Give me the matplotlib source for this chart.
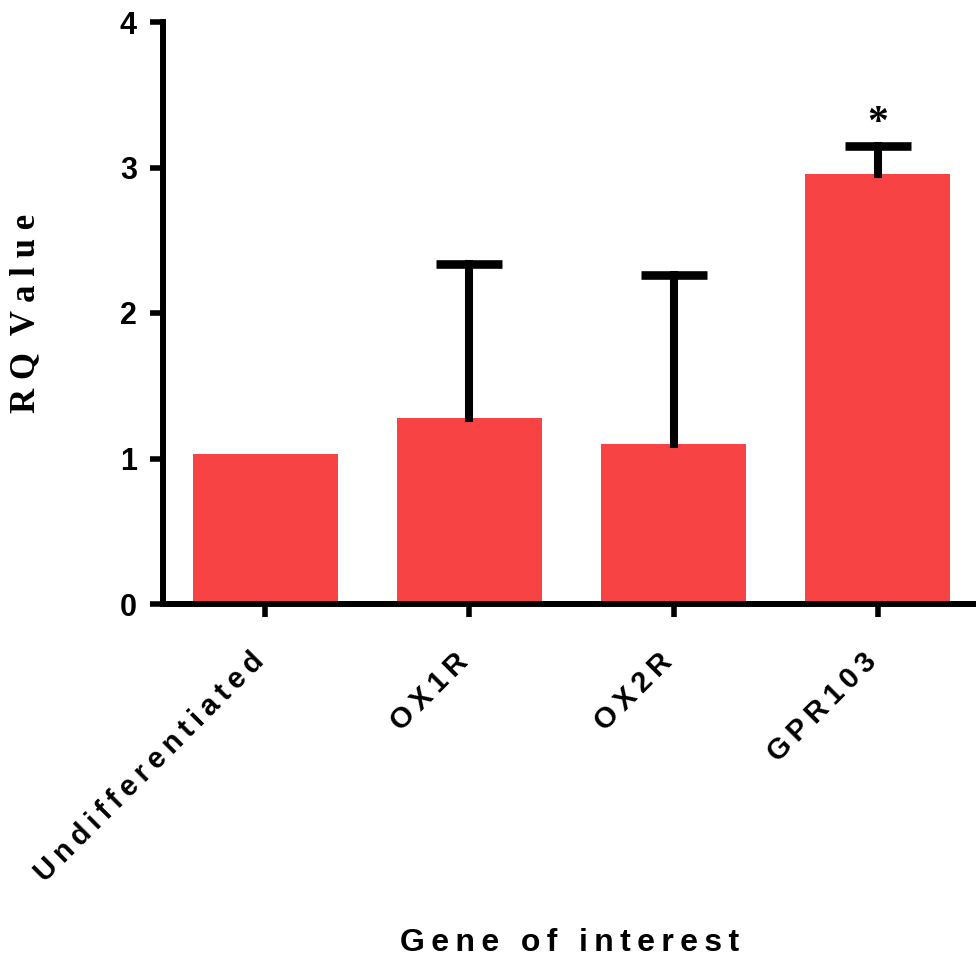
import matplotlib
matplotlib.use("Agg")
import matplotlib.pyplot as plt
import numpy as np

categories = ["Undifferentiated", "OX1R", "OX2R", "GPR103"]
rq_values = [1.03, 1.28, 1.10, 2.955]
rq_err_upper = [0.0, 1.06, 1.16, 0.193]
significance = ["", "", "", "*"]
yticks = [0, 1, 2, 3, 4]

bar_color = "#F74343"
W, H, DPI = 976, 966, 100
TS = "\u2009"  # thin space for letter spacing
SANS = ["Liberation Sans", "DejaVu Sans"]

fig = plt.figure(figsize=(W / DPI, H / DPI), dpi=DPI)
ax = fig.add_axes([162.5 / W, 1 - 604 / H, 1 - 162.5 / W, (604 - 22) / H])

x = np.arange(len(categories))
ax.bar(x, rq_values, width=0.71, color=bar_color, zorder=2)

has_err = [e > 0 for e in rq_err_upper]
xe = x[has_err]
ve = np.array(rq_values)[has_err]
ee = np.array(rq_err_upper)[has_err]
eb = ax.errorbar(xe, ve, yerr=[np.zeros_like(ee), ee], fmt="none", ecolor="black",
                 elinewidth=5.8, capsize=24, capthick=6.2, zorder=3)
eb[1][0].set_visible(False)  # lower caps hidden: one-sided (upper) error bars
for lc in eb[2]:
    lc.set_capstyle("projecting")

for xi, v, e, s in zip(x, rq_values, rq_err_upper, significance):
    if s:
        ax.text(xi, v + e + 0.15, s, ha="center", va="center",
                fontsize=30, fontweight="bold", family="Liberation Serif")

ax.set_xlim(-0.502, 3.48)
ax.set_ylim(0, 4)
ax.set_yticks(yticks)
ax.set_yticklabels([str(t) for t in yticks], fontsize=22, fontweight="bold",
                   family="Liberation Sans")
ax.set_xticks(x)
ax.set_xticklabels([TS.join(c) for c in categories], rotation=45,
                   ha="right", va="baseline", rotation_mode="anchor",
                   fontsize=21, fontweight="bold", family=SANS)

for side in ["top", "right"]:
    ax.spines[side].set_visible(False)
for side in ["left", "bottom"]:
    ax.spines[side].set_linewidth(4.3)
    ax.spines[side].set_capstyle("projecting")
ax.tick_params(axis="both", width=4.0, length=9.5, color="black")
ax.tick_params(axis="y", pad=9)
ax.tick_params(axis="x", pad=33)

ax.set_ylabel("R Q  V a l u e", fontsize=25, fontweight="bold",
              family="Liberation Serif", va="center", ha="center")
ax.yaxis.set_label_coords((26 - 162.5) / (W - 162.5), 0.5)

xlabel_words = ["Gene", "of", "interest"]
xlabel = (" " + TS * 2).join(TS.join(w) for w in xlabel_words)
ax.set_xlabel(xlabel, fontsize=23, fontweight="bold",
              family=SANS, va="center", ha="center")
ax.xaxis.set_label_coords(0.5, (604 - 943) / (604 - 22))

fig.savefig("out.png", dpi=DPI)
